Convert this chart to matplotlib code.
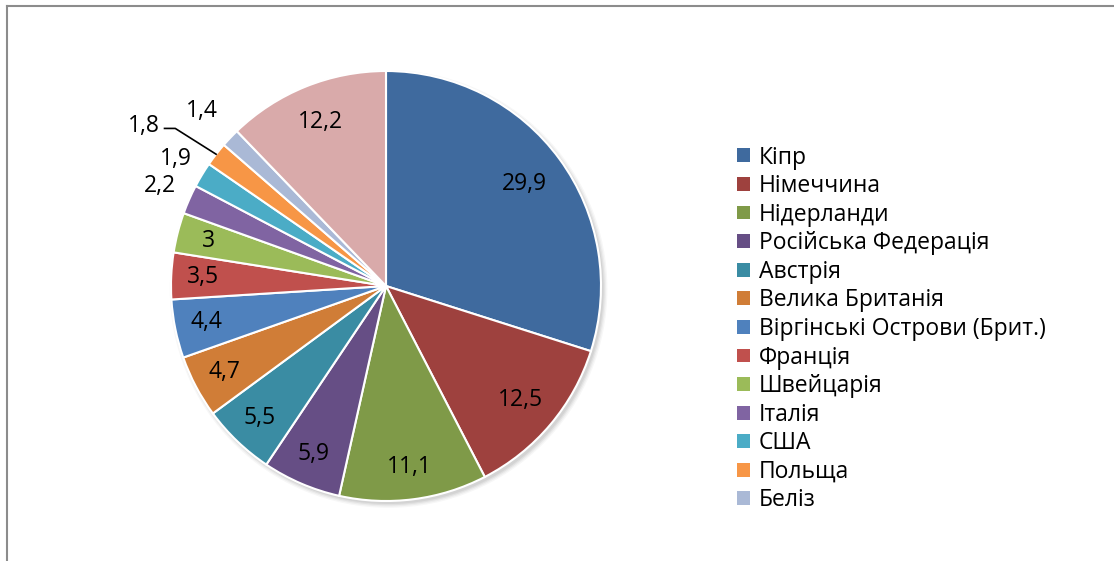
import numpy as np
import matplotlib.pyplot as plt
from matplotlib.patches import Patch, Circle
from matplotlib.lines import Line2D

plt.rcParams['font.family'] = ['Open Sans', 'DejaVu Sans']

#-------------------------------------------------------------------
# data: share by country, %, the last slice (others) has no legend entry
countries = ['Кіпр', 'Німеччина', 'Нідерланди', 'Російська Федерація', 'Австрія',
             'Велика Британія', 'Віргінські Острови (Брит.)', 'Франція', 'Швейцарія',
             'Італія', 'США', 'Польща', 'Беліз']
shares = [29.9, 12.5, 11.1, 5.9, 5.5, 4.7, 4.4, 3.5, 3.0, 2.2, 1.9, 1.8, 1.4]
other_share = 12.2

colors = ['#3F6A9E', '#9E413E', '#7F9A48', '#664E85', '#3A8CA3', '#D07D37',
          '#4F81BD', '#C0504D', '#9BBB59', '#8064A2', '#4BACC6', '#F79646',
          '#AAB9D6', '#D9AAAA']

values = shares + [other_share]

#-------------------------------------------------------------------
W, H = 1114, 561
fig = plt.figure(figsize=(W / 100, H / 100), dpi=100)

# pie centre and radius in pixels
cx, cy, R = 386, 286, 215
lim = 1.4
side = 2 * lim * R
ax = fig.add_axes([(cx - side / 2) / W, (H - cy - side / 2) / H, side / W, side / H])

# soft shadow under the pie
for k, a in enumerate([0.06, 0.05, 0.04, 0.03]):
    ax.add_patch(Circle((0.012, -0.014), 1.0 + 0.006 * k, color='black', alpha=a,
                        lw=0, zorder=0))

wedges, _ = ax.pie(values, colors=colors, startangle=90, counterclock=False, radius=1,
                   wedgeprops=dict(edgecolor='white', linewidth=1.5))
ax.set_xlim(-lim, lim)
ax.set_ylim(-lim, lim)
ax.set_aspect('equal')
ax.axis('off')

fs = 16.5

# data labels
total = sum(values)
cum = np.cumsum([0] + values)
inside_r = {0: 0.80, 1: 0.82, 13: 0.82}
outside_r = {9: 1.15, 10: 1.14, 12: 1.18}
for i, v in enumerate(values):
    mid = (cum[i] + v / 2) / total * 2 * np.pi
    dx, dy = np.sin(mid), np.cos(mid)
    txt = f'{v:g}'.replace('.', ',')
    if i == 11:
        # label pulled out with a leader line
        ex, ey = 1.0 * dx, 1.0 * dy
        lx, ly = ex - 0.19, ey + 0.12
        ax.plot([ex, lx, lx - 0.05], [ey, ly, ly], color='black', lw=1.2)
        ax.text(lx - 0.07, ly + 0.01, txt, ha='right', va='center', fontsize=fs)
        continue
    r = outside_r.get(i, inside_r.get(i, 0.85))
    ax.text(r * dx, r * dy, txt, ha='center', va='center', fontsize=fs)

# legend
handles = [Patch(facecolor=c, edgecolor='none') for c in colors[:len(countries)]]
fig.legend(handles, countries, loc='center left',
           bbox_to_anchor=(737 / W, (H - 329) / H), bbox_transform=fig.transFigure,
           frameon=False, fontsize=fs, handlelength=0.55, handleheight=0.55,
           handletextpad=0.4, labelspacing=0.2, borderpad=0, borderaxespad=0)

# chart frame (top and left edges)
fig.add_artist(Line2D([7 / W, 1.0], [1 - 6 / H, 1 - 6 / H], color='#8C8C8C', lw=1.5,
                      transform=fig.transFigure))
fig.add_artist(Line2D([7 / W, 7 / W], [0, 1 - 6 / H], color='#8C8C8C', lw=1.5,
                      transform=fig.transFigure))

fig.savefig('out.png', dpi=100)
